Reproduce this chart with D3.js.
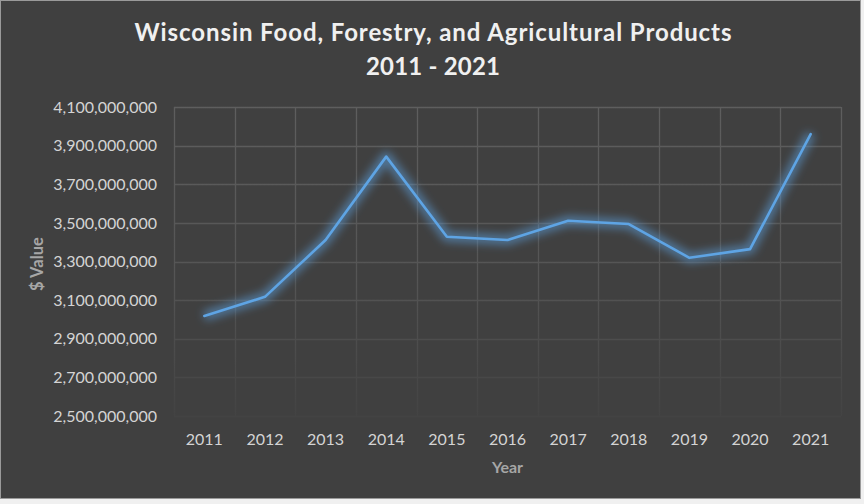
<!DOCTYPE html>
<html>
<head>
<meta charset="utf-8">
<script src="https://cdn.jsdelivr.net/npm/d3@7"></script>
<style>
  body { margin: 0; background: #f0f0f0; }
  svg { display: block; }
  text { font-family: Lato, "Open Sans", sans-serif; }
</style>
</head>
<body>
<script>
// data
var years = ["2011", "2012", "2013", "2014", "2015", "2016", "2017", "2018", "2019", "2020", "2021"];
var values = [3018000000, 3117000000, 3411000000, 3843000000, 3428000000, 3411000000,
              3511000000, 3494000000, 3319000000, 3364000000, 3960000000];
var yTicks = [2500000000, 2700000000, 2900000000, 3100000000, 3300000000,
              3500000000, 3700000000, 3900000000, 4100000000];
var titleLines = ["Wisconsin Food, Forestry, and Agricultural Products", "2011 - 2021"];

var width = 864, height = 504;
var plot = {left: 174, right: 841, top: 107, bottom: 416};

var svg = d3.select("body").append("svg")
    .attr("width", width)
    .attr("height", height);

var defs = svg.append("defs");

// gridlines fade out towards the bottom
var grad = defs.append("linearGradient")
    .attr("id", "gridFade")
    .attr("gradientUnits", "userSpaceOnUse")
    .attr("x1", 0).attr("x2", 0)
    .attr("y1", plot.top).attr("y2", plot.bottom);
grad.append("stop").attr("offset", "0%").attr("stop-color", "#5e5e5e");
grad.append("stop").attr("offset", "55%").attr("stop-color", "#555555");
grad.append("stop").attr("offset", "100%").attr("stop-color", "#434343");

var glow = defs.append("filter")
    .attr("id", "glow")
    .attr("x", "-10%").attr("y", "-30%")
    .attr("width", "120%").attr("height", "160%");
glow.append("feGaussianBlur").attr("stdDeviation", 4);

// chart background
svg.append("rect")
    .attr("x", 0.5).attr("y", 0.5)
    .attr("width", 860).attr("height", 498)
    .attr("fill", "#404040")
    .attr("stroke", "#9a9a9a")
    .attr("stroke-width", 1);

var x = d3.scaleBand()
    .domain(years)
    .range([plot.left, plot.right]);

var y = d3.scaleLinear()
    .domain([2500000000, 4100000000])
    .range([plot.bottom, plot.top]);

// horizontal gridlines
svg.append("g")
    .selectAll("line")
    .data(yTicks)
    .enter().append("line")
    .attr("x1", plot.left).attr("x2", plot.right)
    .attr("y1", function(d) { return Math.round(y(d)) + 0.5; })
    .attr("y2", function(d) { return Math.round(y(d)) + 0.5; })
    .attr("stroke", "url(#gridFade)")
    .attr("stroke-width", 1.3);

// vertical gridlines at band edges
var edges = years.map(function(d) { return x(d); }).concat([plot.right]);
svg.append("g")
    .selectAll("line")
    .data(edges)
    .enter().append("line")
    .attr("x1", function(d) { return Math.round(d) + 0.5; })
    .attr("x2", function(d) { return Math.round(d) + 0.5; })
    .attr("y1", plot.top).attr("y2", plot.bottom)
    .attr("stroke", "url(#gridFade)")
    .attr("stroke-width", 1.3);

// y axis labels
var yAxis = d3.axisLeft(y)
    .tickValues(yTicks)
    .tickSize(0)
    .tickPadding(0)
    .tickFormat(d3.format(",.0f"));
var gy = svg.append("g")
    .attr("transform", "translate(157,0)")
    .call(yAxis);
gy.select(".domain").remove();
gy.selectAll("text")
    .attr("fill", "#d4d4d4")
    .style("font-size", "16px");

// x axis labels
var xAxis = d3.axisBottom(x).tickSize(0).tickPadding(0);
var gx = svg.append("g")
    .attr("transform", "translate(0,433.5)")
    .call(xAxis);
gx.select(".domain").remove();
gx.selectAll("text")
    .attr("fill", "#d4d4d4")
    .style("font-size", "16px");

// the line with its glow
var line = d3.line()
    .x(function(d, i) { return x(years[i]) + x.bandwidth() / 2; })
    .y(function(d) { return y(d); });

svg.append("path")
    .datum(values)
    .attr("d", line)
    .attr("fill", "none")
    .attr("stroke", "#5b9bd5")
    .attr("stroke-opacity", 0.6)
    .attr("stroke-width", 10)
    .attr("stroke-linejoin", "round")
    .attr("filter", "url(#glow)");

svg.append("path")
    .datum(values)
    .attr("d", line)
    .attr("fill", "none")
    .attr("stroke", "#5ea4e4")
    .attr("stroke-width", 2.6)
    .attr("stroke-linejoin", "round")
    .attr("stroke-linecap", "round");

// title
var titleWidths = [597, 134];
svg.append("g")
    .selectAll("text")
    .data(titleLines)
    .enter().append("text")
    .attr("x", 433)
    .attr("y", function(d, i) { return 41 + i * 34; })
    .attr("text-anchor", "middle")
    .attr("textLength", function(d, i) { return titleWidths[i]; })
    .attr("lengthAdjust", "spacing")
    .attr("fill", "#f0f0f0")
    .style("font-size", "24px")
    .style("font-weight", "bold")
    .text(function(d) { return d; });

// axis titles
svg.append("text")
    .attr("x", (plot.left + plot.right) / 2)
    .attr("y", 473)
    .attr("text-anchor", "middle")
    .attr("fill", "#a6a6a6")
    .style("font-size", "16px")
    .style("font-weight", "bold")
    .text("Year");

svg.append("text")
    .attr("transform", "translate(43,264) rotate(-90)")
    .attr("text-anchor", "middle")
    .attr("fill", "#a6a6a6")
    .style("font-size", "16.5px")
    .style("font-weight", "bold")
    .text("$ Value");
</script>
</body>
</html>
